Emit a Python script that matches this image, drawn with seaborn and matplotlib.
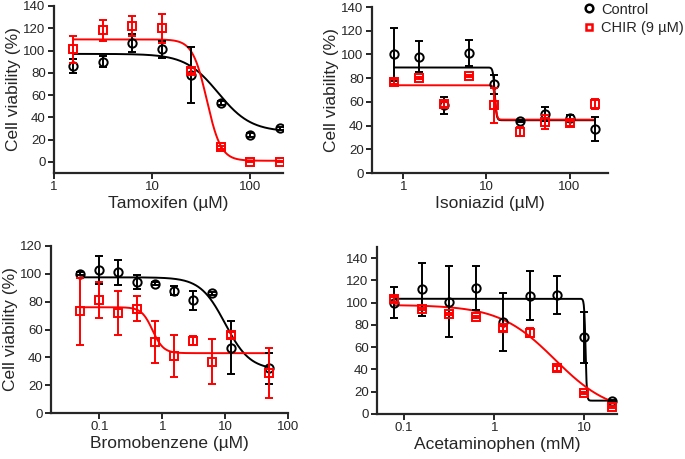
import numpy as np
import pandas as pd
import matplotlib
matplotlib.use("Agg")
import matplotlib.pyplot as plt
from matplotlib.lines import Line2D
from matplotlib.ticker import FuncFormatter, NullLocator, LogLocator
import seaborn as sns

#concentrations and readouts for each drug
tam_x = [1.5625, 3.125, 6.25, 12.5, 25, 50, 100, 200]
tam_ctrl = [86, 90, 107, 101, 78, 53, 24, 30]
tam_ctrl_err = [6, 5, 8, 8, 25, 2, 2, 1]
tam_chir = [101, 118, 122, 120, 82, 13, 0, 0]
tam_chir_err = [12, 9, 9, 13, 2, 1, 0.5, 0.5]

iso_x = [0.78, 1.5625, 3.125, 6.25, 12.5, 25, 50, 100, 200]
iso_ctrl = [100, 98, 57, 101, 75, 44, 50, 46, 37]
iso_ctrl_err = [22, 13, 7, 11, 8, 1, 6, 3, 10]
iso_chir = [77, 80, 58, 82, 57, 35, 43, 42, 58]
iso_chir_err = [2, 1, 2, 1, 15, 4, 6, 2, 4]

bro_x = [0.049, 0.098, 0.195, 0.39, 0.78, 1.5625, 3.125, 6.25, 12.5, 50]
bro_ctrl = [100, 103, 101, 94, 93, 88, 81, 86, 47, 32]
bro_ctrl_err = [1, 10, 9, 5, 1, 3, 7, 1, 19, 11]
bro_chir = [73, 81, 72, 75, 51, 41, 52, 37, 56, 29]
bro_chir_err = [24, 13, 16, 9, 15, 15, 3, 16, 2, 18]

ace_x = [0.078, 0.156, 0.3125, 0.625, 1.25, 2.5, 5, 10, 20]
ace_ctrl = [100, 112, 101, 113, 83, 106, 107, 69, 12]
ace_ctrl_err = [14, 24, 32, 20, 26, 22, 17, 23, 1]
ace_chir = [103, 94, 90, 87, 77, 73, 41, 19, 6]
ace_chir_err = [2, 1, 1, 1, 2, 4, 2, 1, 1]

#fitted 4PL parameters: top, bottom, IC50, hill
tam_fit = [(97, 27, 47, 2.6), (110, 1, 36, 6)]
iso_fit = [(89, 44.5, 12.6, 40), (74, 45, 12.8, 40)]
bro_fit = [(97.5, 31, 10, 2.2), (76, 43, 0.7, 5)]
ace_fit = [(103.5, 12, 10.3, 60), (98, 0, 4.7, 1.4)]


def logistic(x, top, bottom, ic50, hill):
    return bottom + (top - bottom) / (1 + (x / ic50) ** hill)


def draw_panel(ax, x, ctrl, ctrl_err, chir, chir_err, fits, xlim, ylim, yticks, xlabel, ylabel):
    #smooth curves from the fit parameters
    xs = np.logspace(np.log10(min(x)), np.log10(max(x)), 400)
    curves = pd.concat([
        pd.DataFrame({"x": xs, "y": logistic(xs, *fits[0]), "grp": "Control"}),
        pd.DataFrame({"x": xs, "y": logistic(xs, *fits[1]), "grp": "CHIR"}),
    ])
    sns.lineplot(data=curves, x="x", y="y", hue="grp", palette={"Control": "black", "CHIR": "red"},
                 ax=ax, legend=False, linewidth=1.4, zorder=2)

    ax.errorbar(x, ctrl, yerr=ctrl_err, fmt="o", color="black", mfc="none", mec="black",
                ms=6, mew=1.4, elinewidth=1.4, capsize=3, capthick=1.4, zorder=3)
    ax.errorbar(x, chir, yerr=chir_err, fmt="s", color="red", mfc="none", mec="red",
                ms=5.5, mew=1.4, elinewidth=1.4, capsize=3, capthick=1.4, zorder=4)

    ax.set_xscale("log")
    ax.set_xlim(*xlim)
    ax.set_ylim(*ylim)
    ax.set_yticks(yticks)
    ax.xaxis.set_major_locator(LogLocator(base=10))
    ax.xaxis.set_minor_locator(NullLocator())
    ax.xaxis.set_major_formatter(FuncFormatter(lambda v, p: f"{v:g}"))
    ax.set_xlabel(xlabel, fontsize=12.5, labelpad=2)
    ax.set_ylabel(ylabel, fontsize=12.5, labelpad=2)
    ax.tick_params(labelsize=9.5, width=1.4, length=4, pad=2)
    for s in ["left", "bottom"]:
        ax.spines[s].set_linewidth(1.6)
    sns.despine(ax=ax)


sns.set_style("ticks")
plt.rcParams['font.family'] = ['Liberation Sans', 'DejaVu Sans']

fig = plt.figure(figsize=(6.85, 4.59), dpi=100)
W, H = 685, 459


def make_ax(l, r, t, b):
    return fig.add_axes([l / W, 1 - b / H, (r - l) / W, (b - t) / H])


ax1 = make_ax(54, 283, 6, 173)
ax2 = make_ax(372, 608, 7, 173)
ax3 = make_ax(51, 288, 246, 413)
ax4 = make_ax(377, 617, 247, 414)

draw_panel(ax1, tam_x, tam_ctrl, tam_ctrl_err, tam_chir, tam_chir_err, tam_fit,
           (1, 215), (-10, 140), range(0, 141, 20), "Tamoxifen (µM)", "Cell viability (%)")
draw_panel(ax2, iso_x, iso_ctrl, iso_ctrl_err, iso_chir, iso_chir_err, iso_fit,
           (0.42, 290), (0, 140), range(0, 141, 20), "Isoniazid (µM)", "Cell viability (%)")
draw_panel(ax3, bro_x, bro_ctrl, bro_ctrl_err, bro_chir, bro_chir_err, bro_fit,
           (0.017, 100), (0, 120), range(0, 121, 20), "Bromobenzene (µM)", "Cell viability (%)")
draw_panel(ax4, ace_x, ace_ctrl, ace_ctrl_err, ace_chir, ace_chir_err, ace_fit,
           (0.05, 23), (0, 150), range(0, 141, 20), "Acetaminophen (mM)", "")

handles = [
    Line2D([], [], marker="o", ls="none", color="black", mfc="none", ms=5.5, mew=1.8),
    Line2D([], [], marker="s", ls="none", color="red", mfc="none", ms=5, mew=1.8),
]
fig.legend(handles, ["Control", "CHIR (9 µM)"], loc="upper left", bbox_to_anchor=(580 / W, 1.004),
           frameon=False, fontsize=10.5, handlelength=0.7, handletextpad=0.45, labelspacing=0.3,
           borderaxespad=0.1, borderpad=0.2)

fig.savefig("out.png", dpi=100)
